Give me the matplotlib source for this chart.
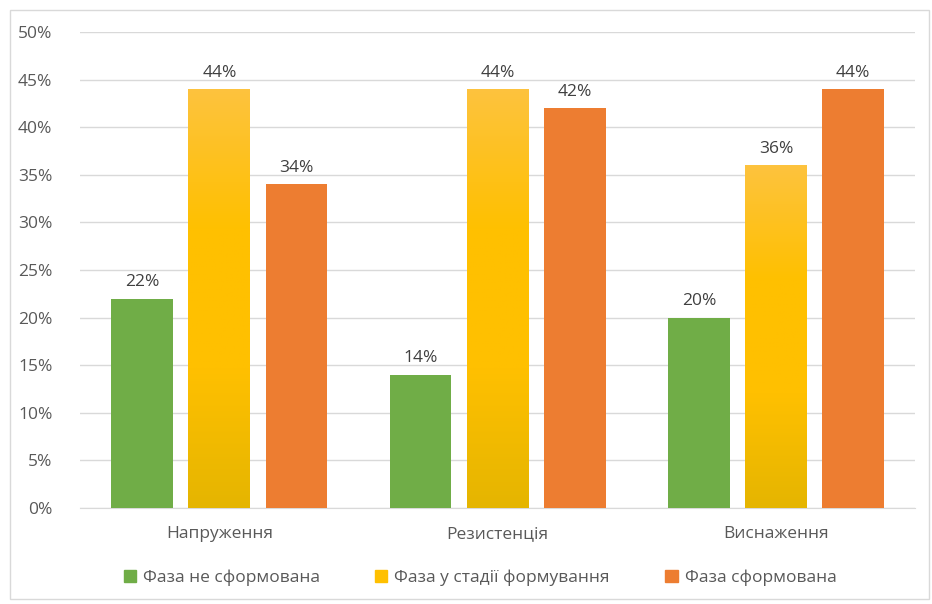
import matplotlib
matplotlib.use('Agg')
import matplotlib.pyplot as plt
import numpy as np
from matplotlib.patches import Rectangle
from matplotlib.colors import LinearSegmentedColormap

plt.rcParams['font.family'] = ['Open Sans', 'DejaVu Sans']

categories = ['Напруження', 'Резистенція', 'Виснаження']
series_names = ['Фаза не сформована', 'Фаза у стадії формування', 'Фаза сформована']
not_formed = [22, 14, 20]
forming = [44, 44, 36]
formed = [34, 42, 44]
values = [not_formed, forming, formed]
colors = ['#70AD47', '#FFC000', '#ED7D31']

fig = plt.figure(figsize=(9.32, 6.04), dpi=100)
ax = fig.add_axes([0.086, 0.159, 0.896, 0.788])

# outer chart border
fig.patches.append(Rectangle((0.011, 0.008), 0.986, 0.976, transform=fig.transFigure,
                             fill=False, edgecolor='#D9D9D9', linewidth=1))

x = np.arange(len(categories))
width = 0.222
offsets = [-0.277, 0, 0.277]

yellow_cmap = LinearSegmentedColormap.from_list('yel', ['#E5B500', '#FFC000', '#FFC000', '#FDC33E'])

for i, (vals, col) in enumerate(zip(values, colors)):
    bars = ax.bar(x + offsets[i], vals, width, color=col, label=series_names[i], zorder=3)
    if i == 1:
        for b in bars:
            b.set_facecolor('none')
            x0, w, h = b.get_x(), b.get_width(), b.get_height()
            grad = np.linspace(0, 1, 256).reshape(-1, 1)
            ax.imshow(grad, cmap=yellow_cmap, aspect='auto', origin='lower',
                      extent=[x0, x0 + w, 0, h], zorder=3)
    for xi, v in zip(x + offsets[i], vals):
        ax.text(xi, v + 0.9, f'{v}%', ha='center', va='bottom', fontsize=12.5, color='#404040')

ax.set_xlim(-0.5, 2.5)
ax.set_ylim(0, 50)
ax.set_yticks(np.arange(0, 51, 5))
ax.set_yticklabels([f'{t}%' for t in range(0, 51, 5)])
ax.set_xticks(x)
ax.set_xticklabels(categories)
ax.tick_params(axis='both', length=0, labelsize=12.5, colors='#595959')
ax.tick_params(axis='y', pad=20)
ax.tick_params(axis='x', pad=13)
ax.grid(axis='y', color='#D9D9D9', linewidth=1, zorder=0)
for s in ['top', 'right', 'left']:
    ax.spines[s].set_visible(False)
ax.spines['bottom'].set_color('#D9D9D9')

handles = [Rectangle((0, 0), 1, 1, color=c) for c in colors]
fig.legend(handles, series_names, loc='center', bbox_to_anchor=(0.515, 0.043), ncol=3,
           frameon=False, fontsize=12.5, handlelength=0.7, handleheight=0.7,
           handletextpad=0.4, columnspacing=3.2, labelcolor='#595959')

fig.savefig('out.png', dpi=100)
